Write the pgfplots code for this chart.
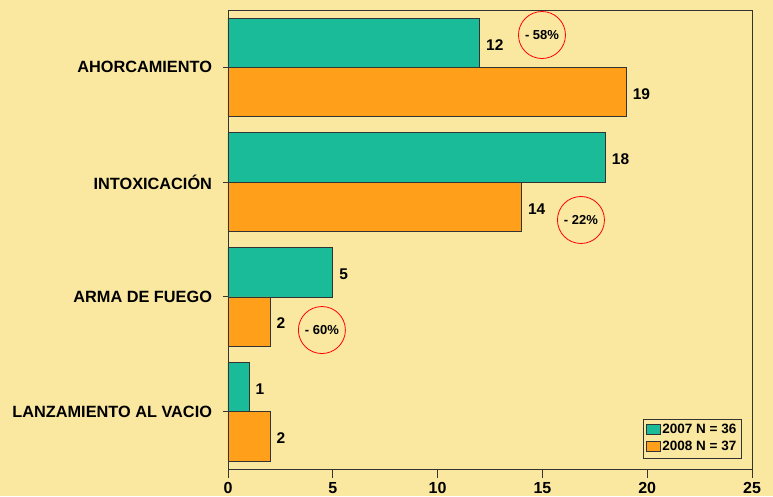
\documentclass[border=0pt]{standalone}
\usepackage{pgfplots}
\pgfplotsset{compat=1.18}
\usepackage{fontspec}
\setmainfont{Liberation Sans}
\definecolor{bg}{HTML}{FAE8A0}
\definecolor{tealb}{HTML}{1ABB98}
\definecolor{orng}{HTML}{FF9F1A}
\begin{document}
\begin{tikzpicture}
\fill[bg] (-228pt,-27pt) rectangle (545pt,469pt);
\path[use as bounding box] (-228pt,-27pt) rectangle (545pt,469pt);
\begin{axis}[
  scale only axis, width=524pt, height=459pt,
  xbar, bar width=0.43,
  xmin=0, xmax=25, ymin=-0.5, ymax=3.5,
  ytick={0,1,2,3},
  yticklabels={LANZAMIENTO AL VACIO, ARMA DE FUEGO, INTOXICACIÓN, AHORCAMIENTO},
  xtick={0,5,10,15,20,25},
  /pgf/number format/assume math mode=true,
  yticklabel style={font=\bfseries\fontsize{16.3}{19}\selectfont, text=black, xshift=-8pt},
  xticklabel style={font=\bfseries\fontsize{16}{19}\selectfont, text=black, yshift=-1pt},
  axis line style={draw=black!80, line width=0.8pt},
  tick style={draw=black!80, line width=0.8pt},
  major tick length=9pt,
  xtick align=outside,
  ytick align=center,
  xtick pos=bottom, ytick pos=left,
  nodes near coords,
  every node near coord/.append style={font=\bfseries\fontsize{15.5}{18}\selectfont, text=black, xshift=3pt, yshift=-2pt},
  legend style={at={(0.979,0.024)}, anchor=south east, draw=black!80, fill=bg,
    font=\bfseries\fontsize{13.5}{16}\selectfont, row sep=3pt, inner xsep=3pt, inner ysep=4pt,
    nodes={inner sep=1.5pt}},
  legend image code/.code={\draw[#1] (0pt,-4pt) rectangle (14pt,6pt);},
  legend cell align=left,
]
\addplot[fill=tealb, draw=black!80, line width=0.6pt, bar shift=0.215] coordinates {(12,3) (18,2) (5,1) (1,0)};
\addplot[fill=orng, draw=black!80, line width=0.6pt, bar shift=-0.215] coordinates {(19,3) (14,2) (2,1) (2,0)};
\legend{2007 N = 36, 2008 N = 37}
\node[draw=red, line width=0.8pt, circle, minimum size=47pt, inner sep=0pt, font=\bfseries\fontsize{13}{15}\selectfont] at (axis cs:14.98,3.282) {- 58\%};
\node[draw=red, line width=0.8pt, circle, minimum size=47pt, inner sep=0pt, font=\bfseries\fontsize{13}{15}\selectfont] at (axis cs:16.84,1.670) {- 22\%};
\node[draw=red, line width=0.8pt, circle, minimum size=47pt, inner sep=0pt, font=\bfseries\fontsize{13}{15}\selectfont] at (axis cs:4.48,0.711) {- 60\%};
\end{axis}
\end{tikzpicture}
\end{document}
